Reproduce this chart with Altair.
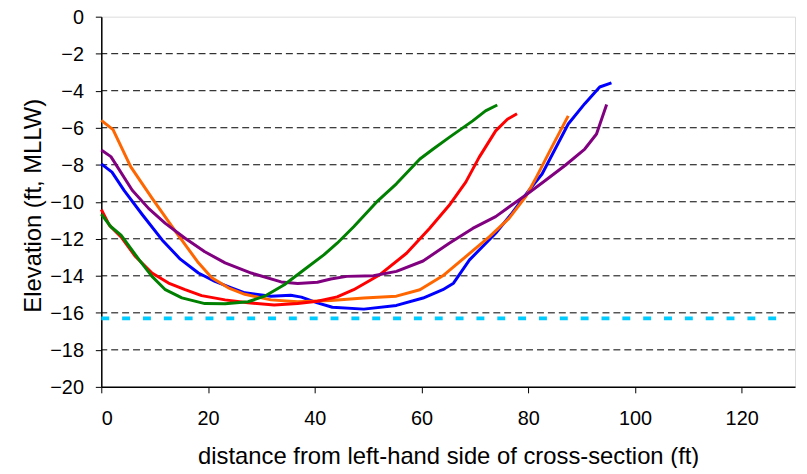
import altair as alt
import pandas as pd

# ---- data ----
blue_x = [0, 2, 4.3, 7.7, 11.4, 14.8, 18.2, 21.3, 24.4, 26.9, 31.8, 35.5, 37.5, 40.5, 43.3, 49.2, 55.3, 60.3, 64, 66, 69, 73.9, 77, 80.1, 82.6, 87.5, 90.6, 93.4, 95.6]
blue_y = [-7.95, -8.4, -9.4, -10.7, -12.06, -13.1, -13.85, -14.3, -14.65, -14.92, -15.1, -15.05, -15.15, -15.46, -15.7, -15.8, -15.6, -15.2, -14.75, -14.4, -13.14, -11.7, -10.6, -9.4, -8.5, -5.8, -4.7, -3.8, -3.58]

orange_x = [0, 2.2, 5.5, 9.5, 13.9, 18.2, 20.7, 23.8, 26.9, 31.8, 36.8, 43, 49.2, 55.3, 59.7, 64, 68.3, 72.7, 76.4, 79.5, 81.3, 84.4, 87.5]
orange_y = [-5.6, -6.1, -8.1, -9.8, -11.6, -13.3, -14.1, -14.65, -15.0, -15.3, -15.4, -15.33, -15.2, -15.1, -14.75, -14.0, -12.96, -11.9, -10.9, -9.74, -8.8, -7.06, -5.36]

red_x = [0, 1.5, 3.7, 6.4, 9.5, 12.6, 15.7, 18.8, 23.2, 27.5, 32.4, 36.8, 40.5, 44.2, 47.3, 52.2, 57.2, 61.5, 65.2, 68.3, 70.8, 73.9, 76.1, 77.9]
red_y = [-10.42, -11.26, -11.9, -12.96, -13.85, -14.39, -14.75, -15.07, -15.3, -15.46, -15.58, -15.5, -15.37, -15.14, -14.75, -13.94, -12.78, -11.44, -10.19, -8.94, -7.6, -6.17, -5.54, -5.24]

purple_x = [0, 1.8, 5.8, 8.9, 12, 15.7, 19.4, 23.2, 28.1, 33.7, 36.8, 40.5, 43, 46, 51, 55.3, 60.3, 65.2, 69.6, 73.9, 76.4, 79.5, 83.2, 86.9, 90.6, 92.8, 94.7]
purple_y = [-7.2, -7.56, -9.38, -10.37, -11.17, -11.97, -12.7, -13.3, -13.85, -14.33, -14.42, -14.35, -14.17, -14.03, -14.0, -13.76, -13.2, -12.24, -11.44, -10.8, -10.28, -9.65, -8.85, -8.04, -7.15, -6.34, -4.74]

green_x = [0, 1.8, 3.7, 7.1, 9.5, 12, 15.1, 19.4, 23.2, 27.5, 30.6, 34.3, 38, 41.7, 44.2, 47.3, 51.6, 55.3, 59.7, 62.2, 65.2, 69.6, 72, 74.2]
green_y = [-10.67, -11.35, -11.8, -13.14, -14.03, -14.75, -15.19, -15.5, -15.51, -15.4, -15.1, -14.48, -13.67, -12.87, -12.24, -11.35, -10.01, -9.03, -7.69, -7.15, -6.52, -5.63, -5.09, -4.77]

ref_x = [0, 128]
ref_y = [-16.3, -16.3]

series_names = ["blue", "orange", "red", "purple", "green"]
series_colors = ["#0000FF", "#FF6600", "#FF0000", "#800080", "#008000"]
x_ticks = [0, 20, 40, 60, 80, 100, 120]
y_ticks = [-20, -18, -16, -14, -12, -10, -8, -6, -4, -2, 0]
grid_y = [-18, -16, -14, -12, -10, -8, -6, -4, -2]

# ---- tables ----
rows = []
for name, xs, ys in [("blue", blue_x, blue_y), ("orange", orange_x, orange_y),
                     ("red", red_x, red_y), ("purple", purple_x, purple_y),
                     ("green", green_x, green_y)]:
    for i, (a, b) in enumerate(zip(xs, ys)):
        rows.append({"series": name, "x": a, "y": b, "i": i})
df = pd.DataFrame(rows)
ref_df = pd.DataFrame({"x": ref_x, "y": ref_y})
grid_df = pd.DataFrame({"y": grid_y})

FONT = "Liberation Sans"

x_scale = alt.Scale(domain=[0, 130], nice=False, zero=False)
y_scale = alt.Scale(domain=[-20, 0], nice=False, zero=False)

x_axis = alt.Axis(values=x_ticks, tickCount=len(x_ticks) + 5, grid=False, labelOverlap=False,
                  title="distance from left-hand side of cross-section (ft)",
                  titleFontSize=24, titleFontWeight="normal",
                  titleBaseline="alphabetic", titleY=77,
                  labelFontSize=20, labelPadding=16,
                  tickSize=6, tickColor="black", tickWidth=1,
                  domainColor="black", domainWidth=1.5)
y_axis = alt.Axis(values=y_ticks, tickCount=len(y_ticks) + 5, grid=False, labelOverlap=False,
                  title="Elevation (ft, MLLW)",
                  titleFontSize=24, titleFontWeight="normal",
                  titleBaseline="alphabetic", titleX=-61, titleY=190,
                  labelFontSize=20, labelPadding=12, labelOffset=1,
                  tickSize=6, tickColor="black", tickWidth=1,
                  domainColor="black", domainWidth=1.5)

grid = alt.Chart(grid_df).mark_rule(color="black", strokeWidth=1, strokeDash=[7, 4]).encode(
    y=alt.Y("y:Q", scale=y_scale, axis=y_axis)
)

ref_line = alt.Chart(ref_df).mark_line(color="#00CCFF", strokeWidth=4, strokeDash=[8, 13], strokeCap="butt").encode(
    x=alt.X("x:Q", scale=x_scale, axis=x_axis), y=alt.Y("y:Q", scale=y_scale, axis=y_axis)
)

lines = alt.Chart(df).mark_line(strokeWidth=3, strokeJoin="round").encode(
    x=alt.X("x:Q", scale=x_scale, axis=x_axis),
    y=alt.Y("y:Q", scale=y_scale, axis=y_axis),
    color=alt.Color("series:N", scale=alt.Scale(domain=series_names, range=series_colors), legend=None),
    order="i:Q",
)

chart = alt.layer(grid, ref_line, lines).properties(
    width=699, height=373,
    autosize=alt.AutoSizeParams(type="none"),
    padding={"left": 94, "top": 7, "right": 4, "bottom": 80},
).configure_view(
    stroke="#808080", strokeWidth=1.5
).configure_axis(
    labelFont=FONT, titleFont=FONT, labelColor="black", titleColor="black"
).configure(background="white")

chart.save("out.html", embed_options={"renderer": "svg", "actions": False})
